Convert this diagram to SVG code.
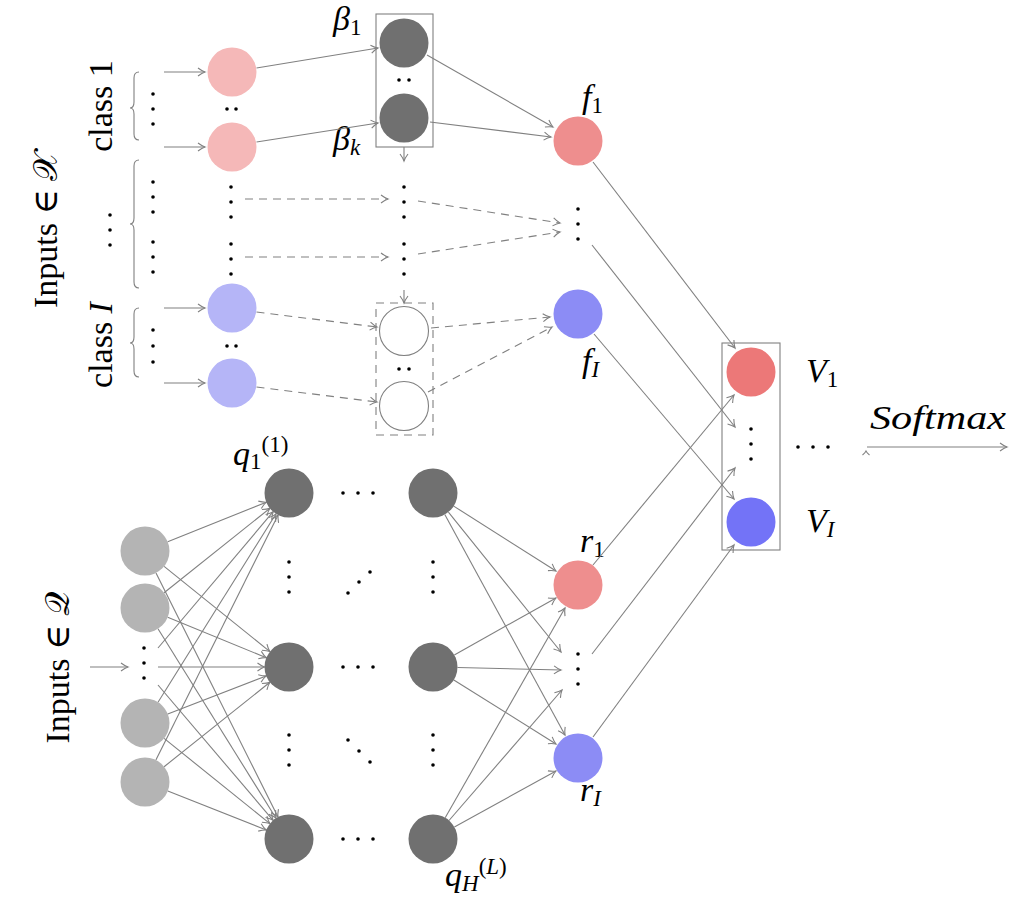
<svg xmlns="http://www.w3.org/2000/svg" width="1024" height="906" viewBox="0 0 1024 906">
<defs>
<marker id="ah" markerWidth="12" markerHeight="12" refX="10" refY="6" orient="auto" markerUnits="userSpaceOnUse" viewBox="0 0 12 12">
<path d="M3,2 Q7,5 10,6 Q7,7 3,10" fill="none" stroke="#808080" stroke-width="1.1"/>
</marker>
</defs>
<style>
.c{stroke:#808080;stroke-width:1.1;fill:none}
.a{stroke:#808080;stroke-width:1.1;fill:none;marker-end:url(#ah)}
.d{stroke:#808080;stroke-width:1.1;fill:none;stroke-dasharray:8,6}
.da{stroke:#808080;stroke-width:1.1;fill:none;stroke-dasharray:8,6;marker-end:url(#ah)}
.t{font-size:34px;fill:#000}
.m{font-size:34px;font-style:italic;fill:#000}
.s{font-size:23px}
.dot{fill:#000}
.pk{fill:#f5b8b8}.bl{fill:#b5b5f7}.dg{fill:#707070}.lg{fill:#b4b4b4}
.fr{fill:#ee8e8e}.fb{fill:#8c8cf5}.vr{fill:#ec7878}.vb{fill:#7373f7}
.wn{fill:#fff;stroke:#808080;stroke-width:1.1}
</style>
<rect width="1024" height="906" fill="#fff"/>

<!-- labels -->
<g id="labels" font-family="Liberation Serif, DejaVu Serif, serif">
<text class="t" text-anchor="middle" transform="translate(57,230) rotate(-90)">Inputs ∈ 𝒳</text>
<text class="t" text-anchor="middle" transform="translate(112,106) rotate(-90)">class 1</text>
<text class="t" text-anchor="middle" transform="translate(112,345) rotate(-90)">class <tspan font-style="italic">I</tspan></text>
<text class="t" text-anchor="middle" transform="translate(69,668) rotate(-90)">Inputs ∈ 𝒬</text>
<text class="m" x="333" y="30">β<tspan class="s" font-style="normal" dy="5">1</tspan></text>
<text class="m" x="333" y="150">β<tspan class="s" dy="5">k</tspan></text>
<text class="m" x="582" y="108">f<tspan class="s" font-style="normal" dy="5">1</tspan></text>
<text class="m" x="582" y="372">f<tspan class="s" dy="5">I</tspan></text>
<text class="m" x="806" y="382">V<tspan class="s" font-style="normal" dy="5">1</tspan></text>
<text class="m" x="806" y="532">V<tspan class="s" dy="5">I</tspan></text>
<text class="m" x="580" y="552">r<tspan class="s" font-style="normal" dy="5">1</tspan></text>
<text class="m" x="580" y="801">r<tspan class="s" dy="5">I</tspan></text>
<text class="m" x="233" y="465">q<tspan class="s" font-style="normal" dy="4">1</tspan><tspan class="s" font-style="normal" dy="-17">(1)</tspan></text>
<text class="m" x="445" y="886">q<tspan class="s" dy="5">H</tspan><tspan class="s" font-style="normal" dy="-17">(</tspan><tspan class="s">L</tspan><tspan class="s" font-style="normal">)</tspan></text>
<text class="m" x="870" y="429" textLength="136" lengthAdjust="spacingAndGlyphs">Softmax</text>
</g>

<!-- connectors -->
<g id="connectors">
<path class="c" d="M139,72 Q134,72 134,78 L134,102 Q134,108 130,108 Q134,108 134,114 L134,134 Q134,140 139,140"/>
<path class="c" d="M139,160 Q134,160 134,166 L134,218 Q134,224 130,224 Q134,224 134,230 L134,282 Q134,288 139,288"/>
<path class="c" d="M139,308 Q134,308 134,314 L134,337 Q134,343 130,343 Q134,343 134,349 L134,371 Q134,377 139,377"/>
<line class="a" x1="164" y1="72" x2="205" y2="72"/>
<line class="a" x1="164" y1="147" x2="205" y2="147"/>
<line class="a" x1="164" y1="308" x2="205" y2="308"/>
<line class="a" x1="164" y1="383" x2="205" y2="383"/>
<line class="a" x1="256.5" y1="68" x2="378" y2="48"/>
<line class="a" x1="256.5" y1="142" x2="378" y2="123"/>
<line class="a" x1="427" y1="55" x2="553" y2="127"/>
<line class="a" x1="430" y1="122" x2="551" y2="137"/>
<line class="a" x1="404" y1="147" x2="404" y2="161"/>
<line class="da" x1="245" y1="199" x2="388" y2="199"/>
<line class="da" x1="245" y1="257" x2="388" y2="257"/>
<line class="da" x1="418" y1="201" x2="560" y2="223"/>
<line class="da" x1="418" y1="254" x2="560" y2="232"/>
<line class="a" x1="404" y1="290" x2="404" y2="303"/>
<line class="da" x1="256.5" y1="312" x2="377" y2="327"/>
<line class="da" x1="256.5" y1="387" x2="377" y2="402"/>
<line class="da" x1="431" y1="328" x2="550" y2="317"/>
<line class="da" x1="428" y1="392" x2="552" y2="327"/>
<line class="a" x1="593" y1="162" x2="735" y2="348"/>
<line class="a" x1="592" y1="245" x2="735" y2="427"/>
<line class="a" x1="594" y1="334" x2="734" y2="499"/>
<line class="a" x1="593" y1="565" x2="734" y2="395"/>
<line class="a" x1="592" y1="654" x2="735" y2="468"/>
<line class="a" x1="593" y1="737" x2="734" y2="545"/>
<line class="a" x1="867" y1="447" x2="1007" y2="447"/>
<path class="c" d="M862.5,455 Q865,453 866,451 Q867,453 869.5,455"/>
<line class="a" x1="90" y1="667" x2="128" y2="667"/>
<line class="a" x1="167.7" y1="541.8" x2="266.3" y2="502.2"/>
<line class="a" x1="164.1" y1="566.4" x2="269.9" y2="651.6"/>
<line class="a" x1="156" y1="572.9" x2="278" y2="817.1"/>
<line class="a" x1="164.1" y1="592.7" x2="269.9" y2="508.3"/>
<line class="a" x1="167.7" y1="617.3" x2="266.3" y2="657.7"/>
<line class="a" x1="158" y1="628.8" x2="276" y2="818.2"/>
<line class="a" x1="158" y1="648" x2="273.2" y2="511.7"/>
<line class="a" x1="158" y1="667" x2="264.5" y2="667"/>
<line class="a" x1="158" y1="685" x2="273.1" y2="820.3"/>
<line class="a" x1="158" y1="702.2" x2="276" y2="513.8"/>
<line class="a" x1="167.8" y1="714.1" x2="266.2" y2="675.9"/>
<line class="a" x1="164.1" y1="738.4" x2="269.9" y2="823.6"/>
<line class="a" x1="155.9" y1="760.1" x2="278.1" y2="514.9"/>
<line class="a" x1="164.1" y1="766.7" x2="269.9" y2="682.3"/>
<line class="a" x1="167.8" y1="791" x2="266.2" y2="830"/>
<line class="a" x1="453.7" y1="506.1" x2="556" y2="571"/>
<line class="a" x1="448.4" y1="512.1" x2="561" y2="652"/>
<line class="a" x1="444.8" y1="514.5" x2="565" y2="735"/>
<line class="a" x1="454.3" y1="654.9" x2="556" y2="598"/>
<line class="a" x1="457.5" y1="667.5" x2="561" y2="670"/>
<line class="a" x1="453.8" y1="680" x2="556" y2="744"/>
<line class="a" x1="445.2" y1="817.7" x2="565" y2="608"/>
<line class="a" x1="449" y1="820.5" x2="562" y2="690"/>
<line class="a" x1="454.4" y1="827" x2="556" y2="771"/>
</g>

<!-- boxes -->
<rect id="beta-box" x="376" y="14" width="57" height="133" class="c"/>
<rect id="white-box" x="376" y="303" width="57" height="132" class="d"/>
<rect id="v-box" x="722" y="343" width="58" height="207" class="c"/>

<!-- nodes -->
<g id="x-class1-a"><circle cx="232" cy="72" r="24.5" class="pk"/></g>
<g id="x-class1-b"><circle cx="232" cy="147" r="24.5" class="pk"/></g>
<g id="x-classI-a"><circle cx="232" cy="308" r="24.5" class="bl"/></g>
<g id="x-classI-b"><circle cx="232" cy="383" r="24.5" class="bl"/></g>
<g id="beta1"><circle cx="404" cy="43" r="24.5" class="dg"/></g>
<g id="betak"><circle cx="404" cy="118" r="24.5" class="dg"/></g>
<g id="white1"><circle cx="404" cy="331" r="24.5" class="wn"/></g>
<g id="white2"><circle cx="404" cy="406" r="24.5" class="wn"/></g>
<g id="f1"><circle cx="578" cy="141" r="24.5" class="fr"/></g>
<g id="fI"><circle cx="578" cy="314" r="24.5" class="fb"/></g>
<g id="V1"><circle cx="751" cy="372" r="24.5" class="vr"/></g>
<g id="VI"><circle cx="751" cy="522" r="24.5" class="vb"/></g>
<g id="q-in1"><circle cx="145" cy="551" r="24.5" class="lg"/></g>
<g id="q-in2"><circle cx="145" cy="608" r="24.5" class="lg"/></g>
<g id="q-in3"><circle cx="145" cy="723" r="24.5" class="lg"/></g>
<g id="q-in4"><circle cx="145" cy="782" r="24.5" class="lg"/></g>
<g id="h1-1"><circle cx="289" cy="493" r="24.5" class="dg"/></g>
<g id="h1-2"><circle cx="289" cy="667" r="24.5" class="dg"/></g>
<g id="h1-3"><circle cx="289" cy="839" r="24.5" class="dg"/></g>
<g id="hL-1"><circle cx="433" cy="493" r="24.5" class="dg"/></g>
<g id="hL-2"><circle cx="433" cy="667" r="24.5" class="dg"/></g>
<g id="hL-3"><circle cx="433" cy="839" r="24.5" class="dg"/></g>
<g id="r1"><circle cx="578" cy="585" r="24.5" class="fr"/></g>
<g id="rI"><circle cx="578" cy="758" r="24.5" class="fb"/></g>

<!-- dots -->
<g id="dots" class="dot">
<circle cx="110" cy="215" r="1.8"/><circle cx="110" cy="230" r="1.8"/><circle cx="110" cy="245" r="1.8"/>
<circle cx="153" cy="94" r="1.8"/><circle cx="153" cy="109" r="1.8"/><circle cx="153" cy="124" r="1.8"/>
<circle cx="153" cy="182" r="1.8"/><circle cx="153" cy="197" r="1.8"/><circle cx="153" cy="212" r="1.8"/>
<circle cx="153" cy="242" r="1.8"/><circle cx="153" cy="257" r="1.8"/><circle cx="153" cy="272" r="1.8"/>
<circle cx="153" cy="330" r="1.8"/><circle cx="153" cy="346" r="1.8"/><circle cx="153" cy="362" r="1.8"/>
<circle cx="227" cy="109" r="1.8"/><circle cx="236" cy="109" r="1.8"/>
<circle cx="227" cy="346" r="1.8"/><circle cx="236" cy="346" r="1.8"/>
<circle cx="399" cy="80" r="1.8"/><circle cx="409" cy="80" r="1.8"/>
<circle cx="399" cy="369" r="1.8"/><circle cx="409" cy="369" r="1.8"/>
<circle cx="231" cy="187" r="1.8"/><circle cx="231" cy="202" r="1.8"/><circle cx="231" cy="217" r="1.8"/>
<circle cx="231" cy="244" r="1.8"/><circle cx="231" cy="259" r="1.8"/><circle cx="231" cy="274" r="1.8"/>
<circle cx="404" cy="187" r="1.8"/><circle cx="404" cy="202" r="1.8"/><circle cx="404" cy="217" r="1.8"/>
<circle cx="404" cy="244" r="1.8"/><circle cx="404" cy="259" r="1.8"/><circle cx="404" cy="274" r="1.8"/>
<circle cx="578" cy="209" r="1.8"/><circle cx="578" cy="224" r="1.8"/><circle cx="578" cy="239" r="1.8"/>
<circle cx="751" cy="429" r="1.8"/><circle cx="751" cy="444" r="1.8"/><circle cx="751" cy="459" r="1.8"/>
<circle cx="798" cy="447" r="1.8"/><circle cx="813" cy="447" r="1.8"/><circle cx="828" cy="447" r="1.8"/>
<circle cx="144" cy="648" r="1.8"/><circle cx="144" cy="663" r="1.8"/><circle cx="144" cy="678" r="1.8"/>
<circle cx="289" cy="562" r="1.8"/><circle cx="289" cy="577" r="1.8"/><circle cx="289" cy="592" r="1.8"/>
<circle cx="289" cy="735" r="1.8"/><circle cx="289" cy="750" r="1.8"/><circle cx="289" cy="765" r="1.8"/>
<circle cx="433" cy="562" r="1.8"/><circle cx="433" cy="577" r="1.8"/><circle cx="433" cy="592" r="1.8"/>
<circle cx="433" cy="735" r="1.8"/><circle cx="433" cy="750" r="1.8"/><circle cx="433" cy="765" r="1.8"/>
<circle cx="343" cy="493" r="1.8"/><circle cx="358" cy="493" r="1.8"/><circle cx="373" cy="493" r="1.8"/>
<circle cx="343" cy="667" r="1.8"/><circle cx="358" cy="667" r="1.8"/><circle cx="373" cy="667" r="1.8"/>
<circle cx="343" cy="839" r="1.8"/><circle cx="358" cy="839" r="1.8"/><circle cx="373" cy="839" r="1.8"/>
<circle cx="348" cy="593" r="1.8"/><circle cx="359" cy="582" r="1.8"/><circle cx="370" cy="572" r="1.8"/>
<circle cx="348" cy="740" r="1.8"/><circle cx="359" cy="751" r="1.8"/><circle cx="370" cy="762" r="1.8"/>
<circle cx="578" cy="654" r="1.8"/><circle cx="578" cy="669" r="1.8"/><circle cx="578" cy="684" r="1.8"/>
</g>
</svg>
